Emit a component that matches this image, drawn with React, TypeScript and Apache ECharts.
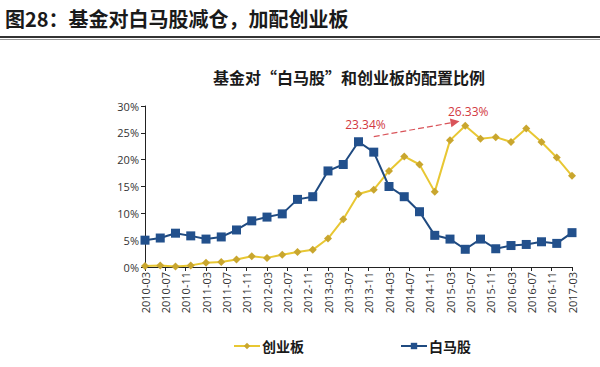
import React, { useEffect, useRef } from "react";
import * as echarts from "echarts";

const quarters = [
  "2010-03","2010-06","2010-09","2010-12","2011-03","2011-06","2011-09","2011-12",
  "2012-03","2012-06","2012-09","2012-12","2013-03","2013-06","2013-09","2013-12",
  "2014-03","2014-06","2014-09","2014-12","2015-03","2015-06","2015-09","2015-12",
  "2016-03","2016-06","2016-09","2016-12","2017-03",
];
const chuangye = [
  0.2, 0.3, 0.1, 0.3, 0.8, 0.95, 1.4, 2.0, 1.7, 2.3, 2.8, 3.2, 5.3, 8.9,
  13.6, 14.4, 17.9, 20.6, 19.1, 14.0, 23.6, 26.33, 23.9, 24.2, 23.3, 25.8, 23.3, 20.4, 17.0,
];
const baima = [
  5.0, 5.4, 6.3, 5.8, 5.2, 5.6, 6.9, 8.6, 9.3, 9.9, 12.6, 13.1, 17.9, 19.1,
  23.34, 21.4, 15.0, 13.1, 10.3, 5.9, 5.2, 3.3, 5.2, 3.4, 4.0, 4.2, 4.7, 4.4, 6.4,
];
const tickLabels = [
  "2010-03","2010-07","2010-11","2011-03","2011-07","2011-11","2012-03","2012-07",
  "2012-11","2013-03","2013-07","2013-11","2014-03","2014-07","2014-11","2015-03",
  "2015-07","2015-11","2016-03","2016-07","2016-11","2017-03",
];
const yTicks = [0, 5, 10, 15, 20, 25, 30];

function buildMonths(first: string, last: string): string[] {
  const out: string[] = [];
  let [y, m] = first.split("-").map(Number);
  const [ly, lm] = last.split("-").map(Number);
  while (y < ly || (y === ly && m <= lm)) {
    out.push(`${y}-${String(m).padStart(2, "0")}`);
    m++;
    if (m > 12) { m = 1; y++; }
  }
  return out;
}

const CJK = '"Noto Sans CJK SC", sans-serif';
const NUM = '"Open Sans", "Noto Sans", sans-serif';

export default function App() {
  const ref = useRef<HTMLDivElement>(null);
  useEffect(() => {
    document.body.style.margin = "0";
    const chart = echarts.init(ref.current!, undefined, { renderer: "svg" });
    const months = buildMonths(quarters[0], quarters[quarters.length - 1]);
    const showTick = (_i: number, v: string) => tickLabels.includes(v);
    chart.setOption({
      animation: false,
      backgroundColor: "#ffffff",
      grid: { left: 145, right: 28, top: 106, bottom: 100, containLabel: false },
      title: {
        text: "基金对“白马股”和创业板的配置比例",
        left: 344,
        top: 64,
        textAlign: "center",
        textStyle: { fontFamily: CJK, fontSize: 16, fontWeight: "bold", color: "#1a1a1a" },
      },
      legend: {
        data: ["创业板", "白马股"],
        left: 228,
        top: 334,
        itemGap: 96,
        itemWidth: 26,
        itemHeight: 8,
        textStyle: { fontFamily: CJK, fontSize: 14, fontWeight: "bold", color: "#1a1a1a", padding: [0, 0, 0, -3] },
      },
      xAxis: {
        type: "category",
        data: months,
        boundaryGap: false,
        axisLine: { lineStyle: { color: "#222", width: 1 } },
        axisTick: { show: true, interval: showTick, length: 4, lineStyle: { color: "#222" } },
        axisLabel: {
          interval: showTick,
          rotate: 90,
          margin: 5,
          fontFamily: NUM,
          fontSize: 11,
          color: "#333",
        },
        splitLine: { show: false },
      },
      yAxis: {
        type: "value",
        min: yTicks[0],
        max: yTicks[yTicks.length - 1],
        interval: 5,
        axisLine: { show: true, lineStyle: { color: "#222", width: 1 } },
        axisTick: { show: true, length: 4, lineStyle: { color: "#222" } },
        axisLabel: { formatter: "{value}%", fontFamily: NUM, fontSize: 11, color: "#333", margin: 6 },
        splitLine: { show: false },
      },
      series: [
        {
          name: "创业板",
          type: "line",
          data: quarters.map((q, i) => [q, chuangye[i]]),
          symbol: "diamond",
          symbolSize: 8,
          showAllSymbol: true,
          lineStyle: { color: "#e8c733", width: 2 },
          itemStyle: { color: "#c9a62e" },
          z: 2,
          markPoint: {
            symbol: "circle",
            symbolSize: 0,
            data: [
              {
                coord: ["2015-06", 26.33],
                label: {
                  show: true,
                  formatter: "26.33%",
                  offset: [3, -14],
                  color: "#d2393f",
                  fontFamily: NUM,
                  fontSize: 12,
                },
              },
            ],
          },
        },
        {
          name: "白马股",
          type: "line",
          data: quarters.map((q, i) => [q, baima[i]]),
          symbol: "rect",
          symbolSize: 9,
          showAllSymbol: true,
          lineStyle: { color: "#1f4a80", width: 2 },
          itemStyle: { color: "#22508c" },
          z: 3,
          markPoint: {
            symbol: "circle",
            symbolSize: 0,
            data: [
              {
                coord: ["2013-09", 23.34],
                label: {
                  show: true,
                  formatter: "23.34%",
                  offset: [7, -17],
                  color: "#d2393f",
                  fontFamily: NUM,
                  fontSize: 12,
                },
              },
            ],
          },
          markLine: {
            silent: true,
            symbol: ["none", "triangle"],
            symbolSize: [9, 9],
            label: { show: false },
            lineStyle: { color: "#d9545a", type: [6, 3], width: 1.2 },
            data: [[{ coord: ["2013-12", 24.3] }, { coord: ["2015-04", 27.0] }]],
          },
        },
      ],
      graphic: [
        {
          type: "text",
          left: 5,
          top: 8,
          style: {
            text: "图28：基金对白马股减仓，加配创业板",
            fontFamily: CJK,
            fontSize: 20,
            fontWeight: "bold",
            fill: "#1a1a1a",
          },
        },
        { type: "rect", shape: { x: 0, y: 36, width: 600, height: 2 }, style: { fill: "#333" } },
        { type: "rect", shape: { x: 0, y: 39, width: 600, height: 1 }, style: { fill: "#999" } },
      ],
    });
    return () => chart.dispose();
  }, []);
  return <div ref={ref} style={{ position: "fixed", left: 0, top: 0, width: 600, height: 367 }} />;
}
